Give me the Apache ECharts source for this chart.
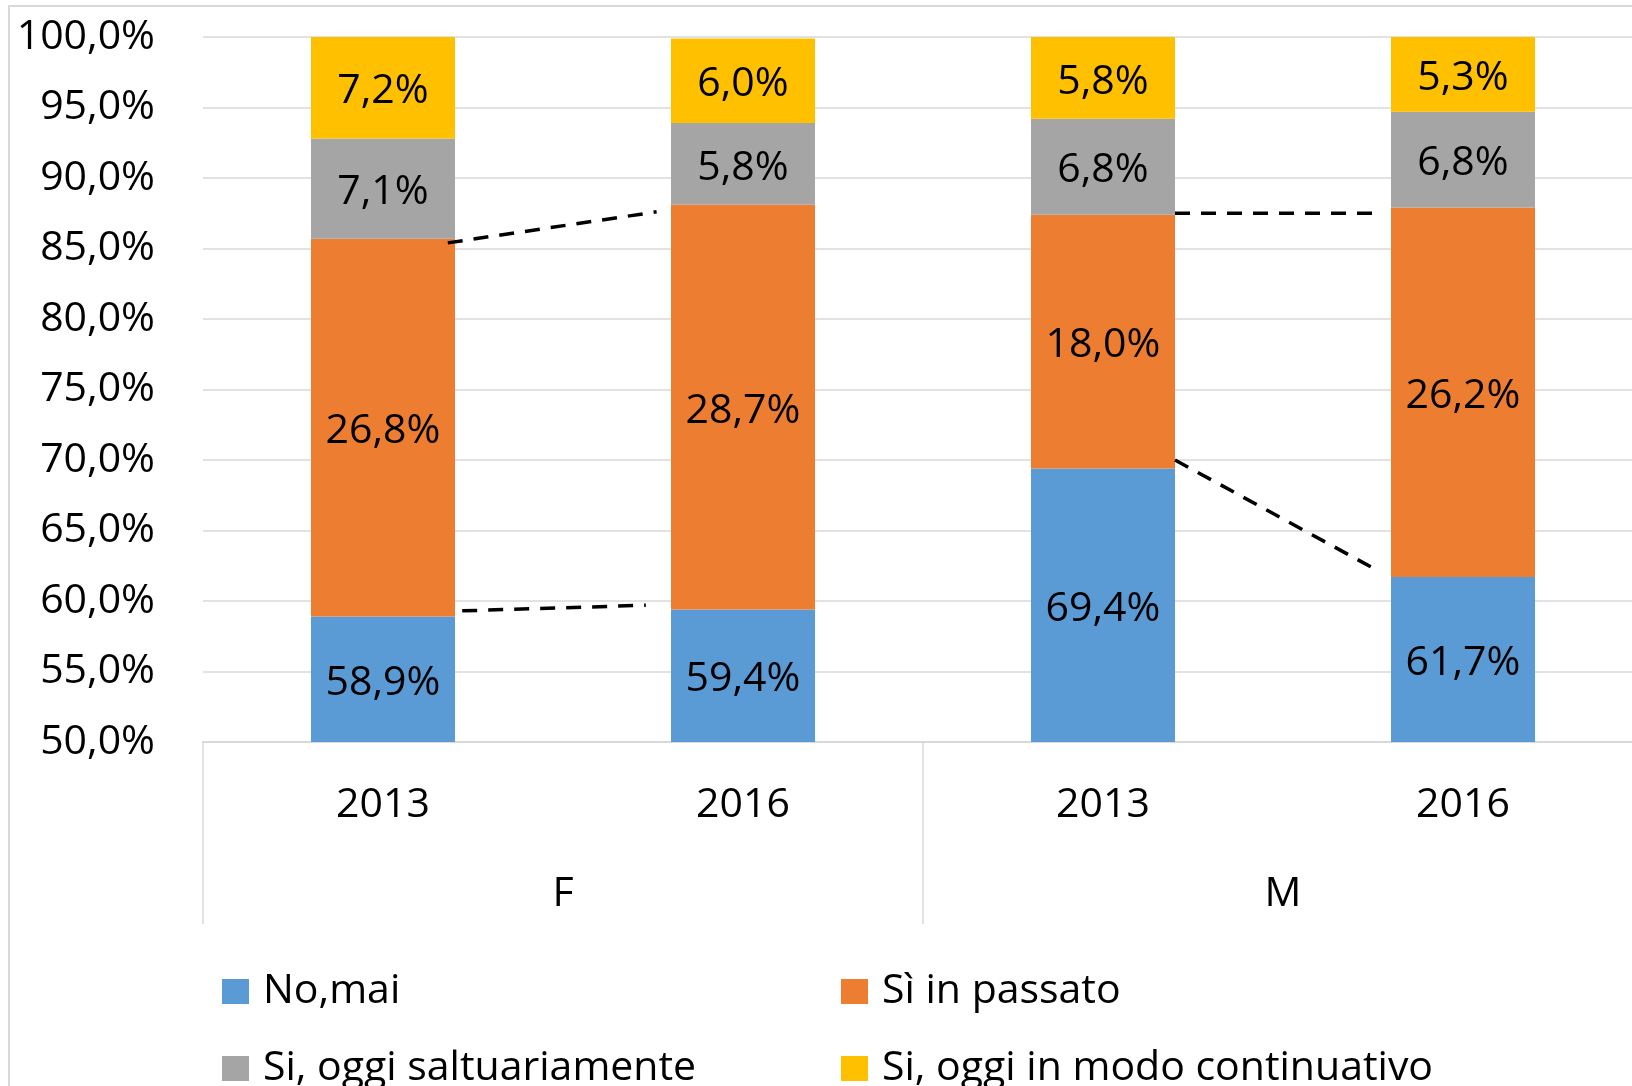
<!DOCTYPE html>
<html>
<head>
<meta charset="utf-8">
<title>Fumo F / M 2013-2016</title>
<script src="https://cdn.jsdelivr.net/npm/echarts@6/dist/echarts.min.js"></script>
<style>
  html, body { margin: 0; padding: 0; background: #fff; }
  #chart { width: 1632px; height: 1086px; }
</style>
</head>
<body>
<div id="chart"></div>
<script>
// categorie (anno) e gruppi (sesso)
const years = ['2013', '2016', '2013', '2016']
const groups = ['F', 'M']

// valori in %
const noMai = [58.9, 59.4, 69.4, 61.7]
const siPassato = [26.8, 28.7, 18.0, 26.2]
const siSaltuario = [7.1, 5.8, 6.8, 6.8]
const siContinuo = [7.2, 6.0, 5.8, 5.3]

const yTicks = [50, 55, 60, 65, 70, 75, 80, 85, 90, 95, 100]

// linee tratteggiate disegnate a mano sul grafico: [posizione categoria, valore %]
const trendFTop = [[0.68, 85.4], [1.26, 87.6]]
const trendFBottom = [[0.72, 59.3], [1.23, 59.7]]
const trendMTop = [[2.70, 87.5], [3.27, 87.5]]
const trendMBottom = [[2.70, 70.0], [3.26, 62.2]]

const FONT = '"Open Sans", "Noto Sans", sans-serif'
const fmt = v => v.toFixed(1).replace('.', ',') + '%'

const chart = echarts.init(document.getElementById('chart'), null, { renderer: 'canvas' })

function barSeries (name, data, color) {
  return {
    name: name,
    type: 'bar',
    stack: 'tot',
    barWidth: '40%',
    xAxisIndex: 0,
    itemStyle: { color: color },
    label: {
      show: true,
      position: 'inside',
      offset: [0, 4],
      color: '#000',
      fontFamily: FONT,
      fontSize: 41,
      formatter: p => fmt(p.value)
    },
    data: data
  }
}

function dashSeries (data) {
  return {
    type: 'line',
    xAxisIndex: 2,
    yAxisIndex: 0,
    symbol: 'none',
    silent: true,
    z: 5,
    lineStyle: { color: '#000', width: 3.5, type: [15, 11] },
    data: data
  }
}

const legendText = { fontFamily: FONT, fontSize: 41, lineHeight: 36, color: '#000', padding: [0, 0, 0, 9] }

chart.setOption({
  animation: false,
  backgroundColor: '#fff',
  textStyle: { fontFamily: FONT },
  graphic: [{
    type: 'rect',
    z: -1,
    shape: { x: 9, y: 6, width: 3000, height: 3000 },
    style: { fill: 'none', stroke: '#d9d9d9', lineWidth: 2 }
  }],
  grid: {
    left: 203,
    top: 37,
    width: 1440,
    height: 705,
    outerBoundsMode: 'none'
  },
  legend: [{
    orient: 'vertical',
    left: 222,
    top: 971,
    width: 600,
    height: 200,
    padding: 0,
    itemWidth: 27,
    itemHeight: 25,
    itemGap: 36,
    icon: 'rect',
    data: ['No,mai', 'Si, oggi saltuariamente'],
    textStyle: legendText
  }, {
    orient: 'vertical',
    left: 841,
    top: 971,
    width: 760,
    height: 200,
    padding: 0,
    itemWidth: 27,
    itemHeight: 25,
    itemGap: 36,
    icon: 'rect',
    data: ['Sì in passato', 'Si, oggi in modo continuativo'],
    textStyle: legendText
  }],
  xAxis: [{
    type: 'category',
    position: 'bottom',
    data: years,
    axisTick: { show: false },
    axisLine: { show: true, lineStyle: { color: '#d9d9d9', width: 2 } },
    axisLabel: {
      margin: 39,
      color: '#000',
      fontFamily: FONT,
      fontSize: 41,
      lineHeight: 48
    }
  }, {
    type: 'category',
    position: 'bottom',
    data: groups,
    axisLine: { show: false },
    axisTick: { show: true, length: 182, lineStyle: { color: '#d9d9d9', width: 1.5 } },
    axisLabel: {
      margin: 128,
      color: '#000',
      fontFamily: FONT,
      fontSize: 41,
      lineHeight: 48
    }
  }, {
    type: 'value',
    position: 'top',
    show: false,
    min: 0,
    max: 4
  }],
  yAxis: {
    type: 'value',
    min: yTicks[0],
    max: yTicks[yTicks.length - 1],
    interval: 5,
    axisLine: { show: false },
    axisTick: { show: false },
    splitLine: { lineStyle: { color: '#d9d9d9', width: 1.5 } },
    axisLabel: {
      margin: 48,
      color: '#000',
      fontFamily: FONT,
      fontSize: 41,
      formatter: v => fmt(v)
    }
  },
  series: [
    barSeries('No,mai', noMai, '#5B9BD5'),
    barSeries('Sì in passato', siPassato, '#ED7D31'),
    barSeries('Si, oggi saltuariamente', siSaltuario, '#A5A5A5'),
    barSeries('Si, oggi in modo continuativo', siContinuo, '#FFC000'),
    dashSeries(trendFTop),
    dashSeries(trendFBottom),
    dashSeries(trendMTop),
    dashSeries(trendMBottom)
  ]
})
</script>
</body>
</html>
